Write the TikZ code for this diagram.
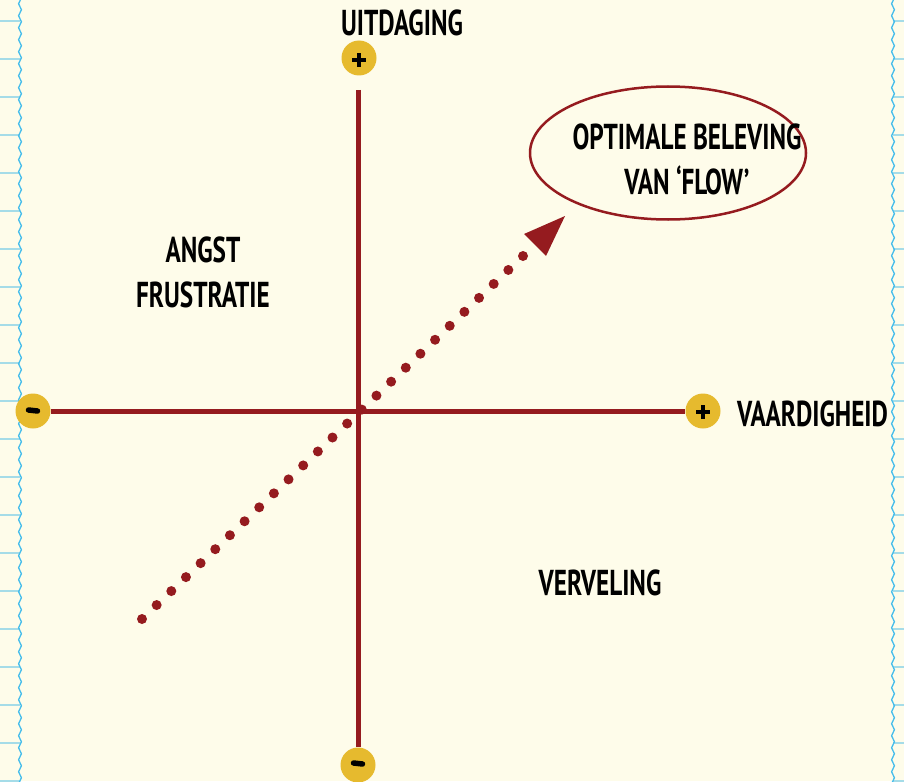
\documentclass[tikz,border=0pt]{standalone}
\usepackage{fontspec}
\newfontfamily\hand[FakeStretch=0.7]{PT Sans}
\usetikzlibrary{decorations.pathmorphing,shapes.geometric}
\definecolor{bg}{HTML}{FEFCEA}
\definecolor{axred}{HTML}{951B1F}
\definecolor{gold}{HTML}{E6BA2E}
\definecolor{wave}{HTML}{45BDEB}
\definecolor{tickc}{HTML}{A5DCE8}
\begin{document}
\begin{tikzpicture}[x=1pt,y=-1pt,
  axisline/.style={draw=axred,line width=5pt},
  knob/.style={circle,fill=gold,minimum size=35pt,inner sep=0pt},
  lbl/.style={font=\hand\bfseries\fontsize{36}{45}\selectfont,text=black,inner sep=0pt},
  sign/.style={draw=black,line width=3.8pt},
  minus/.style={draw=black,line width=5.5pt,line cap=round},
  ruling/.style={draw=tickc,line width=1.5pt},
  wavy/.style={draw=wave,line width=1.3pt,decorate,decoration={snake,segment length=12pt,amplitude=1.4pt}},
  dotted arrow/.style={draw=axred,line width=10pt,line cap=round,dash pattern=on 0pt off 20.24pt}]
\fill[bg] (0,0) rectangle (904,781);
\useasboundingbox (0,0) rectangle (904,781);
% notebook rulings and wavy borders
\foreach \k in {0,...,20} {
  \draw[ruling] (0,21+38*\k) -- (20,21+38*\k);
  \draw[ruling] (893,21+38*\k) -- (904,21+38*\k);
}
\draw[wavy] (20,-6) -- (20,790);
\draw[wavy] (893,-6) -- (893,790);
% knobs
\node[knob] (ktop) at (359,58) {};
\node[knob] (kbot) at (358,765) {};
\node[knob] (kleft) at (33,411) {};
\node[knob] (kright) at (703,411) {};
% axes
\coordinate (vtop) at (358,90);
\draw[axisline] (vtop) -- (kbot);
\draw[axisline] (kleft) -- (kright);
% signs
\draw[sign] ([xshift=-7pt,yshift=-2pt]ktop.center) -- ([xshift=7pt,yshift=-2pt]ktop.center);
\draw[sign] ([yshift=-9pt]ktop.center) -- ([yshift=5pt]ktop.center);
\draw[sign] ([xshift=-7pt,yshift=-1pt]kright.center) -- ([xshift=7pt,yshift=-1pt]kright.center);
\draw[sign] ([yshift=-8pt]kright.center) -- ([yshift=6pt]kright.center);
\draw[minus] ([xshift=-4.5pt,yshift=1pt]kleft.center) -- ([xshift=4.5pt,yshift=0pt]kleft.center);
\draw[minus] ([xshift=-4.5pt,yshift=2pt]kbot.center) -- ([xshift=4.5pt,yshift=1pt]kbot.center);
% labels
\node[lbl] (uit) at (402,23) {UITDAGING};
\node[lbl,anchor=west] (vaar) at (737,414) {VAARDIGHEID};
\node[lbl,align=center] (angst) at (203,272) {ANGST\\FRUSTRATIE};
\node[lbl] (verv) at (600,583) {VERVELING};
% flow ellipse
\node[ellipse,draw=axred,line width=2.5pt,minimum width=276pt,minimum height=133pt] (flow) at (668,153) {};
\node[lbl,align=center] (flowtxt) at (687,159) {OPTIMALE BELEVING\\VAN ‘FLOW’};
% dotted arrow
\coordinate (d0) at (142,619);
\coordinate (d1) at (523,256);
\draw[dotted arrow] (d0) -- (d1);
\coordinate (tip) at (565,216);
\coordinate (ba) at (524,234);
\coordinate (bb) at (546,256);
\fill[axred] (tip) -- (ba) -- (bb) -- cycle;
\end{tikzpicture}
\end{document}
